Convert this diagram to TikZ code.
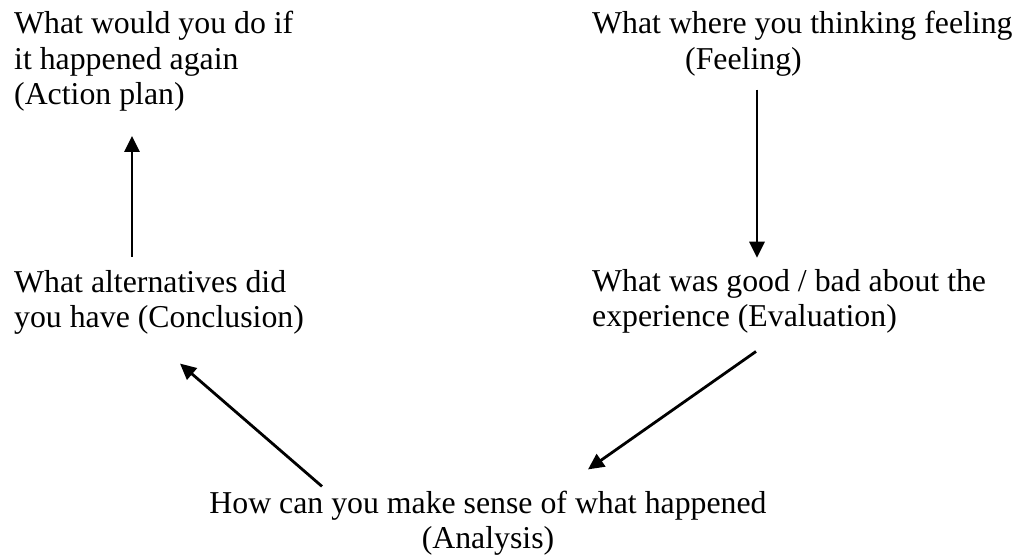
\documentclass[tikz,border=0pt]{standalone}
\usepackage{fontspec}
\setmainfont{Liberation Serif}
\usepackage{tikz}
\usetikzlibrary{arrows.meta}
\tikzstyle{txt}=[anchor=base west, inner sep=0pt, align=left, font=\fontsize{31.8}{35.5}\selectfont]
\tikzstyle{txtc}=[anchor=base, inner sep=0pt, align=center, font=\fontsize{31.8}{35.5}\selectfont]
\tikzstyle{arr}=[-{Triangle[width=15pt,length=16pt]}, line width=2.8pt]

\begin{document}
\begin{tikzpicture}[x=1pt,y=-1pt]
		   \useasboundingbox (0,0) rectangle (1018,556);
		   \begin{scope}
			   \node (act) at (14, 105) [txt] {What would you do if\\it happened again\\(Action plan)};
			   \node (feel) at (592, 69.5) [txt] {What where you thinking feeling\\\hspace*{93pt}(Feeling)};
			   \node (concl) at (14, 327.5) [txt] {What alternatives did\\you have (Conclusion)};
			   \node (eval) at (592, 326.5) [txt] {What was good / bad about the\\experience (Evaluation)};
			   \node (anal) at (488, 548.5) [txtc] {How can you make sense of what happened\\(Analysis)};
		   \end{scope}
		   \begin{scope}
			   \path [arr] ([xshift=118pt,yshift=13pt]concl.north west) edge ([xshift=118pt,yshift=-24pt]act.south west);
			   \path [arr] ([xshift=165pt,yshift=-13pt]feel.south west) edge ([xshift=165pt,yshift=11pt]eval.north west);
			   \path [arr] ([xshift=164pt,yshift=-18pt]eval.south west) edge ([xshift=100pt,yshift=21pt]anal.north);
			   \path [arr] ([xshift=-166pt,yshift=4pt]anal.north) edge ([xshift=166pt,yshift=-29pt]concl.south west);
		   \end{scope}
	   \end{tikzpicture}
\end{document}
